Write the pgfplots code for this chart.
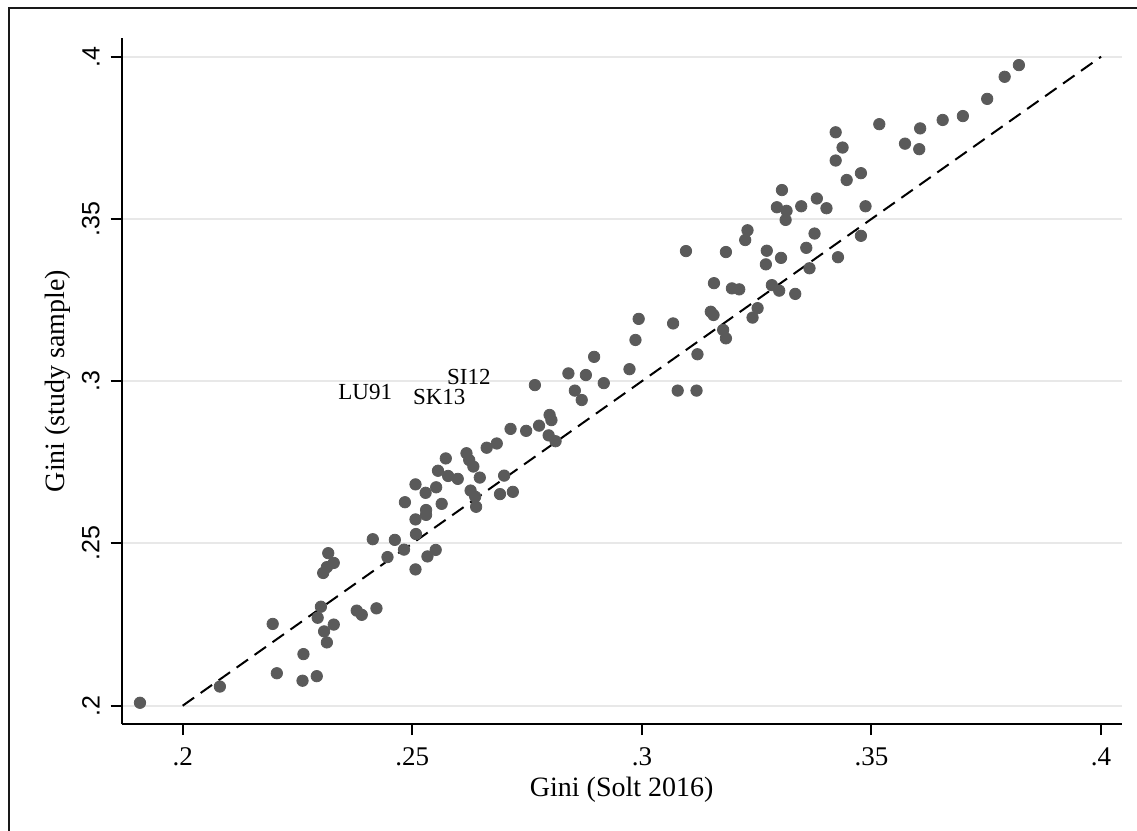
\documentclass[border=0pt]{standalone}
\usepackage{fontspec}
\setmainfont{Liberation Serif}
\newfontfamily\arialfont{Liberation Sans}
\usepackage{pgfplots}
\pgfplotsset{compat=1.18}
\usepackage{pgfplotstable}
\definecolor{mk}{RGB}{90,90,90}
\definecolor{grd}{RGB}{232,232,232}

\pgfplotstableread{
x y
0.1907 0.2009
0.2081 0.2059
0.2196 0.2252
0.2205 0.2100
0.2261 0.2077
0.2263 0.2159
0.2292 0.2091
0.2301 0.2305
0.2294 0.2271
0.2329 0.2250
0.2308 0.2229
0.2314 0.2195
0.2306 0.2409
0.2317 0.2470
0.2329 0.2440
0.2314 0.2427
0.2379 0.2293
0.2390 0.2280
0.2422 0.2300
0.2414 0.2513
0.2462 0.2511
0.2446 0.2458
0.2482 0.2481
0.2507 0.2420
0.2533 0.2460
0.2551 0.2480
0.2508 0.2529
0.2507 0.2574
0.2530 0.2588
0.2530 0.2603
0.2484 0.2627
0.2507 0.2682
0.2529 0.2656
0.2552 0.2673
0.2564 0.2622
0.2556 0.2724
0.2573 0.2762
0.2578 0.2708
0.2599 0.2699
0.2618 0.2778
0.2624 0.2757
0.2633 0.2737
0.2647 0.2703
0.2627 0.2663
0.2637 0.2644
0.2639 0.2613
0.2700 0.2709
0.2662 0.2795
0.2684 0.2808
0.2691 0.2652
0.2719 0.2659
0.2714 0.2853
0.2748 0.2847
0.2776 0.2863
0.2799 0.2896
0.2803 0.2880
0.2797 0.2833
0.2812 0.2815
0.2767 0.2988
0.2840 0.3024
0.2878 0.3019
0.2896 0.3075
0.2854 0.2971
0.2869 0.2942
0.2917 0.2994
0.2973 0.3037
0.2993 0.3192
0.2986 0.3127
0.3068 0.3178
0.3150 0.3214
0.3156 0.3204
0.3121 0.3083
0.3078 0.2971
0.3119 0.2971
0.3096 0.3401
0.3183 0.3398
0.3230 0.3465
0.3225 0.3435
0.3272 0.3402
0.3270 0.3360
0.3303 0.3380
0.3305 0.3589
0.3294 0.3536
0.3315 0.3525
0.3313 0.3497
0.3347 0.3539
0.3381 0.3563
0.3402 0.3533
0.3376 0.3455
0.3358 0.3411
0.3365 0.3348
0.3427 0.3382
0.3477 0.3448
0.3487 0.3539
0.3446 0.3620
0.3477 0.3641
0.3157 0.3302
0.3196 0.3286
0.3212 0.3283
0.3283 0.3296
0.3299 0.3279
0.3334 0.3269
0.3252 0.3225
0.3241 0.3196
0.3177 0.3158
0.3183 0.3132
0.3422 0.3680
0.3437 0.3720
0.3422 0.3767
0.3517 0.3792
0.3573 0.3732
0.3606 0.3779
0.3604 0.3715
0.3655 0.3805
0.3699 0.3817
0.3752 0.3870
0.3790 0.3938
0.3821 0.3974
}\points

\pgfplotstableread{
x y label
0.23382 0.29667 LU91
0.25749 0.30114 SI12
0.25009 0.29513 SK13
}\labels

\begin{document}
\begin{tikzpicture}
\begin{axis}[
  scale only axis,
  width=500bp, height=343bp,
  xmin=0.18672, xmax=0.40449,
  ymin=0.19436, ymax=0.40576,
  axis x line*=bottom, axis y line*=left,
  axis line style={-, line width=1bp, black},
  xtick={0.2,0.25,0.3,0.35,0.4},
  xticklabels={.2,.25,.3,.35,.4},
  ytick={0.2,0.25,0.3,0.35,0.4},
  yticklabels={.2,.25,.3,.35,.4},
  tick align=outside,
  major tick length=5.5bp,
  tick style={line width=1bp, black},
  ymajorgrids,
  grid style={line width=1bp, grd},
  xticklabel style={font=\fontsize{13.5bp}{16bp}\selectfont, anchor=north},
  xticklabel shift=3bp,
  yticklabel style={font=\arialfont\fontsize{12.5bp}{15bp}\selectfont, rotate=90, anchor=south},
  yticklabel shift=2bp,
  xlabel={Gini (Solt 2016)},
  ylabel={Gini (study sample)},
  xlabel style={font=\fontsize{14bp}{16bp}\selectfont, at={(axis description cs:0.5,-0.0962)}, anchor=center},
  ylabel style={font=\fontsize{14bp}{16bp}\selectfont, at={(axis description cs:-0.0637,0.5)}, anchor=center},
  clip=false,
]
\addplot[line width=1bp, black, dash pattern=on 7bp off 4bp] coordinates {(0.2,0.2) (0.4,0.4)};
\addplot[only marks, mark=*, mark size=2.85bp, mk, mark options={draw=mk, fill=mk}] table[x=x, y=y] {\points};
\addplot[draw=none, mark=none, nodes near coords, point meta=explicit symbolic,
  nodes near coords style={anchor=west, inner sep=0pt, font=\fontsize{11.5bp}{14bp}\selectfont, text=black}]
  table[x=x, y=y, meta=label] {\labels};
\end{axis}
\draw[line width=1bp, black!90] (-56.5bp,-60bp) -- (-56.5bp,358bp) -- (512bp,358bp);
\pgfresetboundingbox
\path[use as bounding box] (-60.85bp,-53.5bp) rectangle (507.65bp,362bp);
\end{tikzpicture}
\end{document}
